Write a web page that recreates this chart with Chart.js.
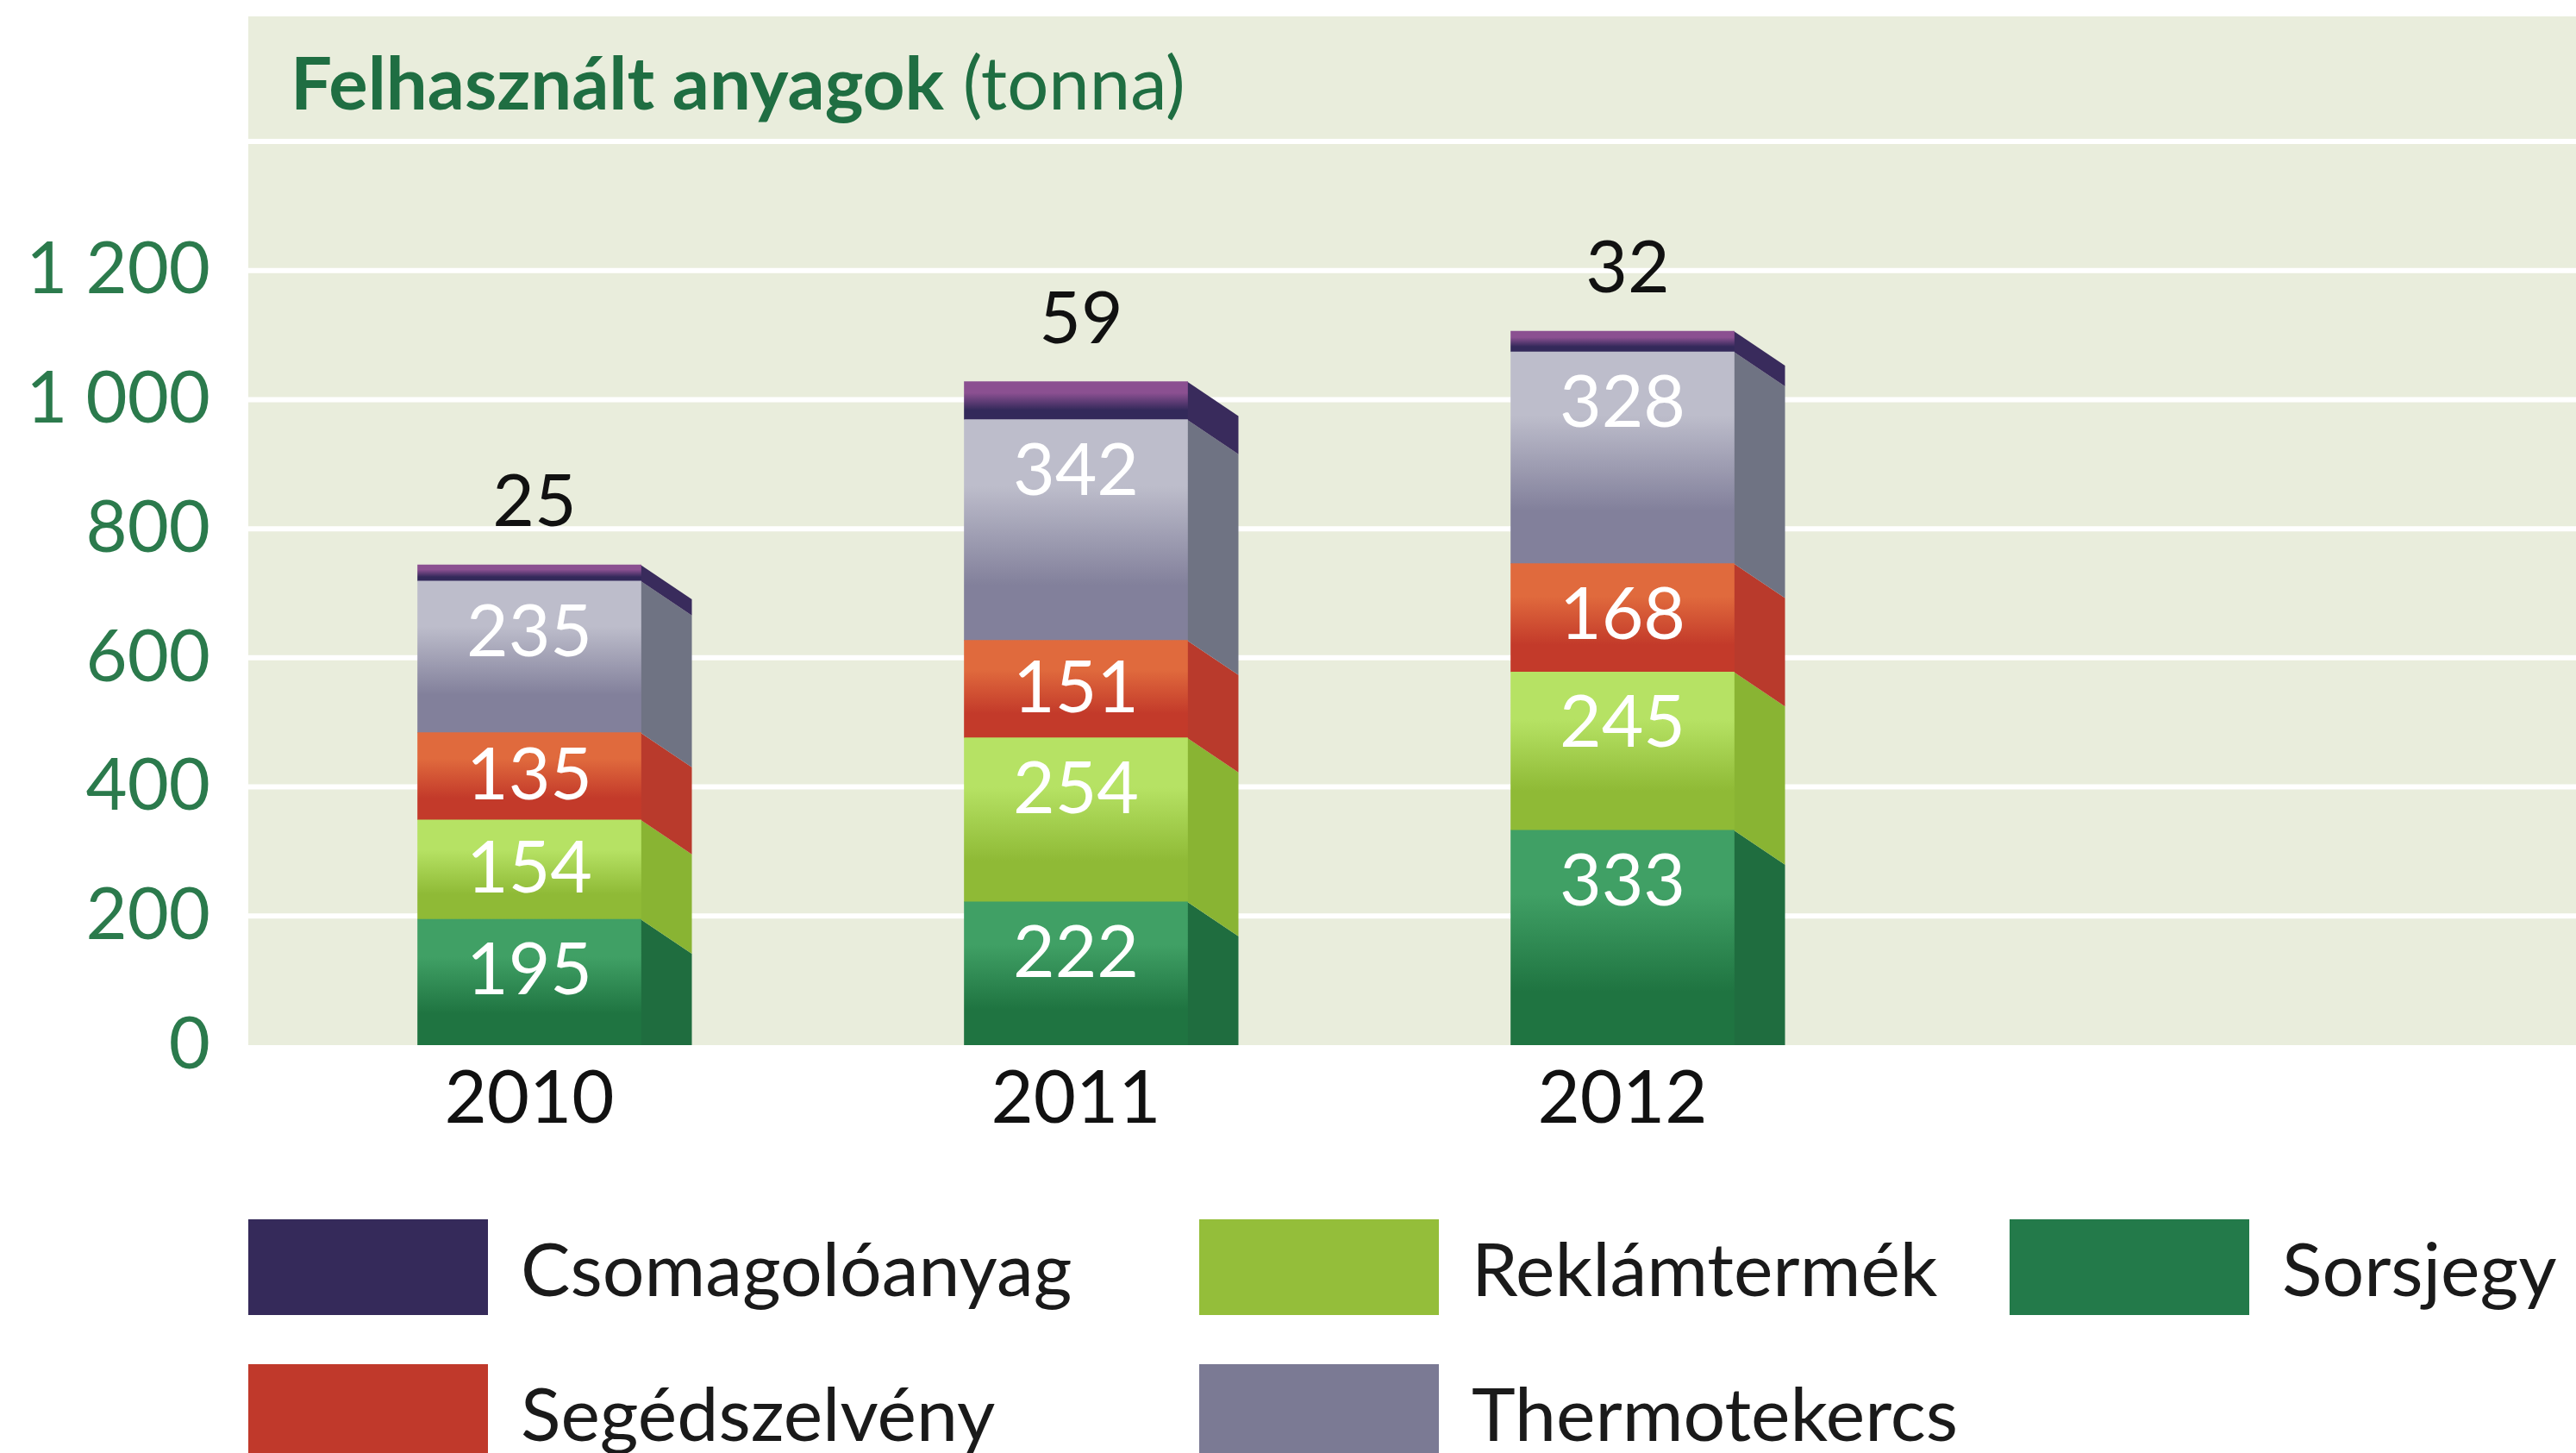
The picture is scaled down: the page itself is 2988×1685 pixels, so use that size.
<!DOCTYPE html>
<html lang="hu">
<head>
<meta charset="utf-8">
<title>Felhasznált anyagok</title>
<script src="https://cdn.jsdelivr.net/npm/chart.js@4.4.1/dist/chart.umd.min.js"></script>
<style>
  html, body { margin: 0; padding: 0; background: #fff; }
  #wrap { position: relative; width: 2988px; height: 1685px; overflow: hidden; font-family: Lato, 'DejaVu Sans', sans-serif; }
  #chart { position: absolute; left: 0; top: 0; }
  #title { position: absolute; left: 337px; top: 36px; font-size: 85px; line-height: 116px; color: #1f6e42; white-space: nowrap; }
  #title b { font-weight: 700; }
  #legend { position: absolute; left: 288px; top: 1414px; display: grid; grid-template-columns: 1103px 940px auto; row-gap: 57px; }
  .item { display: flex; align-items: center; height: 111px; }
  .box { width: 278px; height: 111px; }
  .item span { margin-left: 38px; font-size: 86px; color: #1a1a1a; white-space: nowrap; }
</style>
</head>
<body>
<div id="wrap">
  <canvas id="chart" width="2988" height="1685"></canvas>
  <div id="title"><b>Felhasznált anyagok</b> (tonna)</div>
  <div id="legend"></div>
</div>
<script>
// data (stack order: bottom to top)
const years = ['2010', '2011', '2012'];
const sorsjegy = [195, 222, 333];
const reklamtermek = [154, 254, 245];
const segedszelveny = [135, 151, 168];
const thermotekercs = [235, 342, 328];
const csomagoloanyag = [25, 59, 32];
const yTicks = [0, 200, 400, 600, 800, 1000, 1200, 1400];
const legendOrder = ['Csomagolóanyag', 'Reklámtermék', 'Sorsjegy', 'Segédszelvény', 'Thermotekercs'];

const series = [
  { name: 'Sorsjegy', data: sorsjegy, light: '#40a065', dark: '#1f7441', side: '#1f6d3f', key: '#237a4a' },
  { name: 'Reklámtermék', data: reklamtermek, light: '#b6e264', dark: '#8fba36', side: '#89b433', key: '#94be3a' },
  { name: 'Segédszelvény', data: segedszelveny, light: '#e06a3d', dark: '#c33a2a', side: '#b93a2c', key: '#c0392b' },
  { name: 'Thermotekercs', data: thermotekercs, light: '#bdbdcb', dark: '#82809b', side: '#6f7383', key: '#7b7a94' },
  { name: 'Csomagolóanyag', data: csomagoloanyag, light: '#8b5091', dark: '#33295a', side: '#392b5c', key: '#352a5a' },
];

const DX = 59, DY = 40;
const PANEL_LEFT = 288, PANEL_TOP = 19;

function frontFill(ctx) {
  const s = series[ctx.datasetIndex];
  const chart = ctx.chart;
  if (ctx.type !== 'data' || !chart.chartArea || !chart.scales.y) return s.key;
  let base = 0;
  for (let i = 0; i < ctx.datasetIndex; i++) base += series[i].data[ctx.dataIndex];
  const y = chart.scales.y;
  const top = y.getPixelForValue(base + s.data[ctx.dataIndex]);
  const bot = y.getPixelForValue(base);
  const g = chart.ctx.createLinearGradient(0, top, 0, bot);
  g.addColorStop(0, s.light);
  g.addColorStop(0.3, s.light);
  g.addColorStop(0.75, s.dark);
  g.addColorStop(1, s.dark);
  return g;
}

// panel background + white gridlines
const panel = {
  id: 'panel',
  beforeDraw(chart) {
    const c = chart.ctx, area = chart.chartArea, y = chart.scales.y;
    c.save();
    c.fillStyle = '#e9eddc';
    c.fillRect(PANEL_LEFT, PANEL_TOP, chart.width - PANEL_LEFT, area.bottom - PANEL_TOP);
    c.strokeStyle = '#ffffff';
    c.lineWidth = 6;
    yTicks.forEach(v => {
      if (v === 0) return;
      const py = y.getPixelForValue(v);
      c.beginPath();
      c.moveTo(PANEL_LEFT, py);
      c.lineTo(chart.width, py);
      c.stroke();
    });
    c.restore();
  }
};

// right side faces of the 3D bars
const depth = {
  id: 'depth',
  beforeDatasetsDraw(chart) {
    const c = chart.ctx, area = chart.chartArea;
    c.save();
    c.beginPath();
    c.rect(0, 0, chart.width, area.bottom);
    c.clip();
    chart.data.datasets.forEach((ds, di) => {
      chart.getDatasetMeta(di).data.forEach(bar => {
        const p = bar.getProps(['x', 'y', 'base', 'width'], true);
        const r = p.x + p.width / 2;
        c.fillStyle = series[di].side;
        c.beginPath();
        c.moveTo(r - 0.5, p.y);
        c.lineTo(r + DX, p.y + DY);
        c.lineTo(r + DX, p.base + DY);
        c.lineTo(r - 0.5, p.base);
        c.closePath();
        c.fill();
      });
    });
    c.restore();
  }
};

// value labels
const values = {
  id: 'values',
  afterDatasetsDraw(chart) {
    const c = chart.ctx;
    const last = chart.data.datasets.length - 1;
    c.save();
    c.font = '84px Lato';
    c.textAlign = 'center';
    c.textBaseline = 'middle';
    chart.data.datasets.forEach((ds, di) => {
      chart.getDatasetMeta(di).data.forEach((bar, i) => {
        const p = bar.getProps(['x', 'y', 'base'], true);
        if (di === last) {
          c.fillStyle = '#111';
          c.fillText(ds.data[i], p.x + 6, p.y - 72);
        } else {
          c.fillStyle = '#ffffff';
          c.fillText(ds.data[i], p.x, Math.min((p.y + p.base) / 2, p.y + 60));
        }
      });
    });
    c.restore();
  }
};

new Chart(document.getElementById('chart'), {
  type: 'bar',
  data: {
    labels: years,
    datasets: series.map(s => ({
      label: s.name,
      data: s.data,
      backgroundColor: frontFill,
      borderWidth: 0,
      barThickness: 259,
    })),
  },
  options: {
    responsive: false,
    animation: false,
    layout: { padding: { top: 164, right: 789, bottom: 353, left: 0 } },
    plugins: {
      legend: { display: false },
      tooltip: { enabled: false },
    },
    scales: {
      x: {
        stacked: true,
        grid: { display: false, drawTicks: false },
        border: { display: false },
        ticks: { color: '#111', font: { family: 'Lato', size: 85 }, padding: 12 },
        afterFit: s => { s.height = 120; },
      },
      y: {
        stacked: true,
        min: 0,
        max: 1400,
        grid: { display: false, drawTicks: false },
        border: { display: false },
        afterBuildTicks: s => { s.ticks = yTicks.map(v => ({ value: v })); },
        ticks: {
          color: '#2b7a4c',
          font: { family: 'Lato', size: 83 },
          padding: 53,
          callback: v => v === 1400 ? '' : String(v).replace(/\B(?=(\d{3})+(?!\d))/g, ' '),
        },
        afterFit: s => { s.width = 297; },
      },
    },
  },
  plugins: [panel, depth, values],
});

// legend, laid out in the same grid as the original
const legendEl = document.getElementById('legend');
legendOrder.forEach(name => {
  const s = series.find(x => x.name === name);
  const item = document.createElement('div');
  item.className = 'item';
  item.innerHTML = '<div class="box" style="background:' + s.key + '"></div><span>' + name + '</span>';
  legendEl.appendChild(item);
});
</script>
</body>
</html>
